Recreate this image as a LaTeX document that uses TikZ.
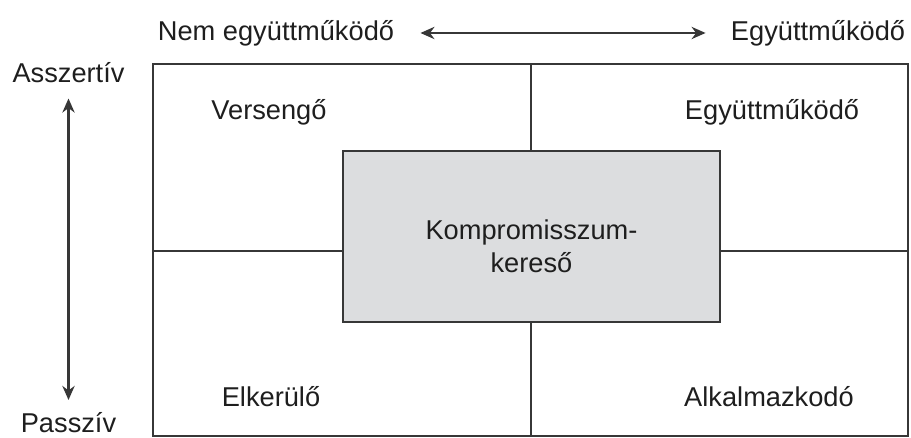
\documentclass[tikz,border=0pt]{standalone}
\usepackage{fontspec}
\setmainfont{Liberation Sans}
\usetikzlibrary{arrows.meta}
\definecolor{boxgray}{RGB}{220,221,223}
\definecolor{linegray}{RGB}{55,55,55}
\definecolor{textdark}{RGB}{30,30,30}
\begin{document}
\begin{tikzpicture}[
    lbl/.style={text=textdark, font=\fontsize{15.5}{19}\selectfont, inner sep=0pt},
    arr/.style={<->, >={Stealth[length=8pt, width=7pt]}, line width=1.2pt, draw=linegray},
    frame/.style={line width=1pt, draw=linegray}
  ]
        \useasboundingbox (0,0) rectangle (18.22,8.76);

        % Frame and dividers
        \draw[frame] (3.06,0.04) rectangle (18.16,7.48);
        \draw[frame] (10.62,0.04) -- (10.62,7.48);
        \draw[frame] (3.06,3.74) -- (18.16,3.74);

        % Compromise box
        \node[frame, fill=boxgray, minimum width=7.54cm, minimum height=3.42cm] (komp) at (10.63,4.03) {};
        \node[lbl, align=center] (kompt) at ([yshift=-0.2cm]komp.center) {Kompromisszum-\\kereső};

        % Quadrant names
        \node[lbl] (vers) at (5.38,6.52) {Versengő};
        \node[lbl] (egyq) at (15.44,6.52) {Együttműködő};
        \node[lbl] (elk) at (5.42,0.82) {Elkerülő};
        \node[lbl] (alk) at (15.38,0.82) {Alkalmazkodó};

        % Top axis
        \node[lbl] (nem) at (5.52,8.1) {Nem együttműködő};
        \node[lbl] (egy) at (16.36,8.1) {Együttműködő};
        \draw[arr, shorten <=0.52cm, shorten >=0.5cm] (nem) -- (egy);

        % Side axis
        \node[lbl] (assz) at (1.37,7.3) {Asszertív};
        \node[lbl] (passz) at (1.37,0.3) {Passzív};
        \draw[arr, shorten <=0.3cm, shorten >=0.25cm] (assz) -- (passz);

     \end{tikzpicture}
\end{document}
